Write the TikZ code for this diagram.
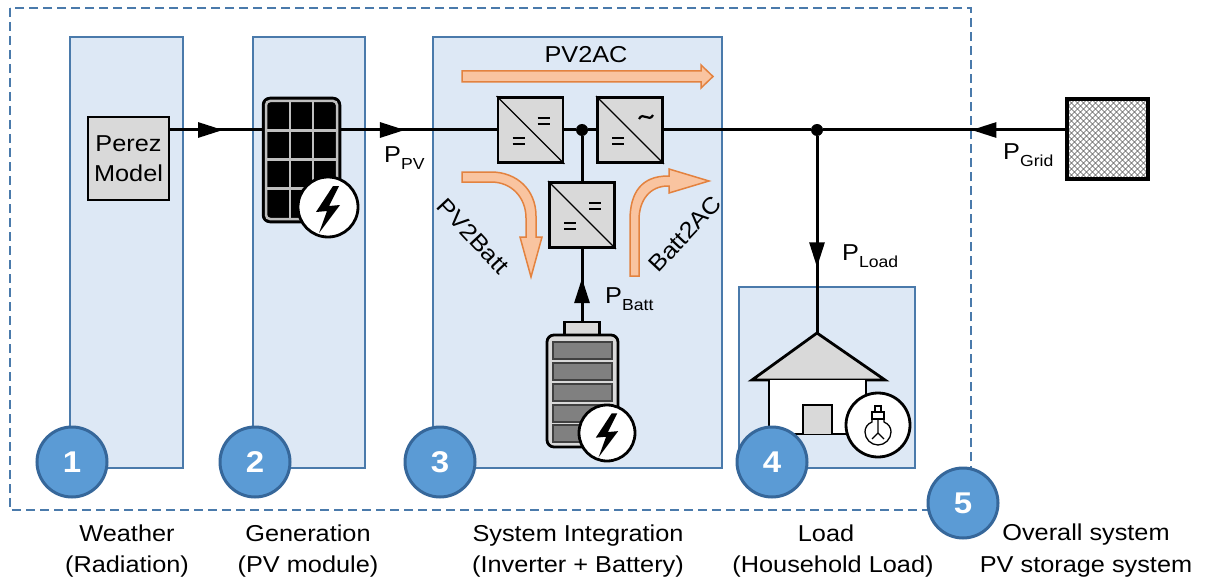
\documentclass[tikz,border=0pt]{standalone}
\usepackage{fontspec}
\setmainfont[FakeStretch=1.1]{Liberation Sans}
\usetikzlibrary{arrows.meta,decorations.markings,calc}

\definecolor{panelfill}{HTML}{DDE8F5}
\definecolor{paneledge}{HTML}{4A7AAB}
\definecolor{badgefill}{HTML}{5B9BD5}
\definecolor{badgeedge}{HTML}{36679A}
\definecolor{flowfill}{HTML}{F9C4A0}
\definecolor{flowedge}{HTML}{E3823F}
\definecolor{boxgray}{HTML}{D9D9D9}
\definecolor{cellgray}{HTML}{808080}
\definecolor{gridline}{HTML}{BFBFBF}

\newcommand\bigfont{\fontsize{23}{30}\selectfont}
\newcommand\subfont{\fontsize{16}{16}\selectfont}
\newcommand\pwr[1]{P\raisebox{-7pt}{\subfont #1}}

% white circle with a lightning bolt: centre x, centre y, radius
\newcommand\boltbadge[3]{%
  \begin{scope}[shift={(#1,#2)}, scale=#3/30]
    \draw[fill=white, line width=2.8pt] (0,0) circle[radius=30pt];
    \fill[black] (5,-21) -- (-12,5) -- (-1,4) -- (-9,26) -- (12,-2) -- (1,-1) -- (11,-21) -- cycle;
  \end{scope}}

% symbols inside a converter box
\newcommand\eqhigh[1]{\draw[line width=2.4pt] ([shift={(7,-12)}]#1.center) -- ++(12,0) ([shift={(7,-6)}]#1.center) -- ++(12,0);}
\newcommand\eqlow[1]{\draw[line width=2.4pt] ([shift={(-18,8)}]#1.center) -- ++(12,0) ([shift={(-18,14)}]#1.center) -- ++(12,0);}
\newcommand\acsym[1]{\draw[line width=2.2pt] ([shift={(9,-11)}]#1.center) .. controls +(4,-8) and +(-4,8) .. ++(14,-4);}
\newcommand\diag[1]{\draw[line width=1.4pt] (#1.north west) -- (#1.south east);}

\tikzset{
  panel/.style={draw=paneledge, fill=panelfill, line width=2.4pt},
  badge/.style={circle, minimum size=70pt, inner sep=0pt, fill=badgefill, draw=badgeedge,
    line width=3pt, text=white, font=\fontsize{30}{30}\selectfont\bfseries},
  conv/.style={rectangle, minimum size=65pt, inner sep=0pt, fill=boxgray, draw=black, line width=2.8pt},
  wire/.style={line width=3pt},
  flow/.style={fill=flowfill, draw=flowedge, line width=1.5pt},
  junction/.style={circle, fill=black, minimum size=12pt, inner sep=0pt},
  caption/.style={font=\bigfont, anchor=base, inner sep=0pt},
  plabel/.style={font=\bigfont, anchor=base west, inner sep=0pt},
  midtip/.style={postaction={decorate}, decoration={markings,
    mark=at position #1 with {\arrow{Triangle[length=25pt, width=15pt]}}}}
}

\begin{document}
\begin{tikzpicture}[x=1pt, y=-1pt]
\fill[white] (0,0) rectangle (1207,583);
\useasboundingbox (0,0) rectangle (1207,583);

% overall system boundary
\draw[paneledge, line width=2.6pt, dash pattern=on 9pt off 5pt] (10,8) rectangle (971,510);

% the four stage panels
\draw[panel] (70,37) rectangle (183,468);
\draw[panel] (253,37) rectangle (365,468);
\draw[panel] (433,37) rectangle (722,468);
\draw[panel] (739,287) rectangle (915,468);

\coordinate (bus) at (0,130);

% weather model
\node[draw=black, fill=boxgray, line width=2.8pt, minimum width=81pt, minimum height=83pt,
  inner sep=0pt, align=center, font=\bigfont] (perez) at (128.5,158.5) {Perez\\Model};

% PV module
\node[rectangle, rounded corners=7pt, fill=black, draw=black, line width=2.5pt,
  minimum width=77pt, minimum height=124pt, inner sep=0pt] (pv) at (301.5,160) {};
\draw[gridline, line width=2.5pt, rounded corners=4pt] (266,101) rectangle (337,219);
\draw[gridline, line width=2.5pt] (290,101) -- (290,219) (313,101) -- (313,219)
  (266,130.5) -- (337,130.5) (266,159.5) -- (337,159.5) (266,188.5) -- (337,188.5);
\boltbadge{328}{207}{30}

% power flow arrows in the inverter
\node[font=\bigfont] (pv2ac) at (586,55) {PV2AC};
\draw[flow] (462,71) -- (701,71) -- (701,65) -- (713,76.5) -- (701,88) -- (701,82) -- (462,82) -- cycle;
\draw[flow] (462,172) -- (491,172) .. controls (517,172) and (536,190) .. (536,216) -- (536,237)
  -- (542,237) -- (531,277) -- (520,237) -- (526,237) -- (526,218)
  .. controls (526,198) and (512,182) .. (491,182) -- (462,182) -- cycle;
\draw[flow] (630,276) -- (630,220) .. controls (630,192) and (642,176) .. (668,176) -- (669,176)
  -- (669,169) -- (709,181) -- (669,193) -- (669,186) -- (668,186)
  .. controls (650,186) and (639,200) .. (639,220) -- (639,276) -- cycle;
\node[font=\bigfont, rotate=-47] (pv2batt) at (473,236) {PV2Batt};
\node[font=\bigfont, rotate=47] (batt2ac) at (685,234) {Batt2AC};

% converters
\node[conv] (conv1) at (530.5,130) {};
\node[conv] (conv2) at (630,130) {};
\node[conv] (conv3) at (582,215) {};
\diag{conv1} \eqhigh{conv1} \eqlow{conv1}
\diag{conv2} \acsym{conv2} \eqlow{conv2}
\diag{conv3} \eqhigh{conv3} \eqlow{conv3}
\node[junction] (j1) at (582,130) {};
\node[junction] (j2) at (817,130) {};

% battery
\node[rectangle, draw=black, fill=boxgray, line width=2.5pt, minimum width=35pt,
  minimum height=13pt, inner sep=0pt] (batt) at (582,328.5) {};
\draw[fill=boxgray, line width=2.8pt, rounded corners=7pt] (547,335) rectangle (618,447);
\foreach \cy in {342,363,384,405,425}
  \draw[fill=cellgray, draw=black!75, line width=1.2pt] (553,\cy) rectangle (612,\cy+17);
\boltbadge{607}{433}{28}

% grid connection
\node[rectangle, draw=black, fill=white, line width=3.2pt, minimum width=81pt, minimum height=80pt,
  inner sep=0pt, path picture={
    \foreach \k in {-96,-90,...,96}
      \draw[black!65, line width=0.45pt]
        ($(path picture bounding box.center)+(\k-50,-50)$) -- ++(100,100)
        ($(path picture bounding box.center)+(\k-50,50)$) -- ++(100,-100);
  }] (grid) at (1107.5,139) {};

% household
\coordinate (house) at (817,333);
\draw[fill=boxgray, line width=2.8pt, line join=miter] (752,380) -- (house) -- (885,380) -- cycle;
\draw[fill=white, line width=2.8pt] (769,380) -- (769,434) -- (866,434) -- (866,380);
\draw[fill=boxgray, line width=2.8pt] (803,434) -- (803,405) -- (832,405) -- (832,434);
\draw[fill=white, line width=2.8pt] (878,425) circle[radius=32pt];
\draw[line width=1.3pt] (872,412) rectangle (884,419) (875,406) rectangle (881,412);
\draw[line width=1.3pt] (872,419) -- (872,422) .. controls (867,424) and (865,428) .. (865,432)
  .. controls (865,439) and (871,445) .. (878,445) .. controls (885,445) and (891,439) .. (891,432)
  .. controls (891,428) and (889,424) .. (884,422) -- (884,419);
\draw[line width=1.1pt] (878,419) -- (878,433) -- (872,439) (878,433) -- (884,439);

% power lines
\draw[wire, midtip=0.576] (perez.east |- bus) -- (pv.west |- bus);
\draw[wire, midtip=0.41] (pv.east |- bus) -- (conv1.west);
\draw[wire] (conv1.east) -- (j1);
\draw[wire] (j1) -- (conv2.west);
\draw[wire] (conv2.east) -- (j2);
\draw[wire, midtip=0.388] (grid.west |- bus) -- (j2);
\draw[wire, midtip=0.666] (j2) -- (house);
\draw[wire] (j1) -- (conv3.north);
\draw[wire, midtip=0.593] (batt.north) -- (conv3.south);

% power labels
\node[plabel] (ppv) at (384,162) {\pwr{PV}};
\node[plabel] (pgrid) at (1003,159) {\pwr{Grid}};
\node[plabel] (pload) at (842,260) {\pwr{Load}};
\node[plabel] (pbatt) at (605,303) {\pwr{Batt}};

% stage numbers
\node[badge] (b1) at (72,462) {1};
\node[badge] (b2) at (255,462) {2};
\node[badge] (b3) at (440,462) {3};
\node[badge] (b4) at (772,462) {4};
\node[badge] (b5) at (963,503) {5};

% stage captions
\node[caption] (c1a) at (127,541) {Weather};
\node[caption] (c1b) at (127,572) {(Radiation)};
\node[caption] (c2a) at (308,541) {Generation};
\node[caption] (c2b) at (308,572) {(PV module)};
\node[caption] (c3a) at (578,541) {System Integration};
\node[caption] (c3b) at (578,572) {(Inverter + Battery)};
\node[caption] (c4a) at (826,541) {Load};
\node[caption] (c4b) at (833,572) {(Household Load)};
\node[caption] (c5a) at (1086,540) {Overall system};
\node[caption] (c5b) at (1086,572) {PV storage system};
\end{tikzpicture}
\end{document}
